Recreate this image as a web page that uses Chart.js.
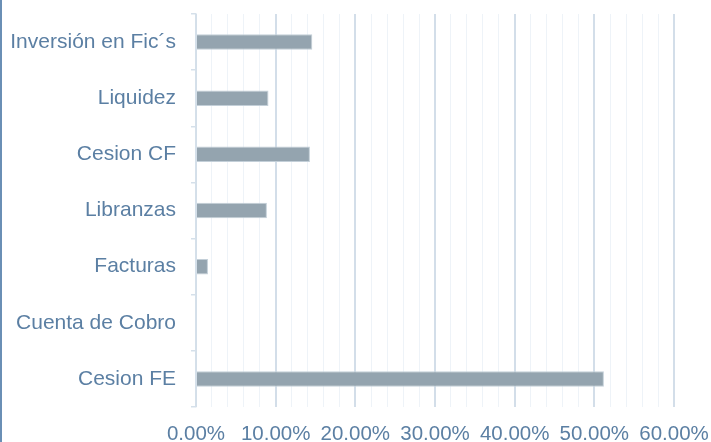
<!DOCTYPE html>
<html>
<head>
<meta charset="utf-8">
<script src="https://cdn.jsdelivr.net/npm/chart.js@4.4.1/dist/chart.umd.min.js"></script>
<style>
  html, body { margin: 0; padding: 0; background: #ffffff; overflow: hidden; }
  #wrap { position: relative; width: 709px; height: 442px; border-left: 2px solid #6a8fb5; }
  #c { display: block; }
</style>
</head>
<body>
<div id="wrap"><canvas id="c" width="709" height="442"></canvas></div>
<script>
const categories = ["Inversión en Fic´s", "Liquidez", "Cesion CF", "Libranzas", "Facturas", "Cuenta de Cobro", "Cesion FE"];
const values = [14.6, 9.1, 14.3, 8.9, 1.5, 0, 51.2];
const xTickValues = [0, 10, 20, 30, 40, 50, 60];

const labelColor = '#5b7fa3';
const fontFamily = '"Liberation Sans", Arial, sans-serif';

new Chart(document.getElementById('c'), {
  type: 'bar',
  data: {
    labels: categories,
    datasets: [{
      data: values,
      backgroundColor: '#94a4af',
      borderColor: '#c3cfd8',
      borderWidth: 1,
      borderSkipped: 'left',
      categoryPercentage: 0.3,
      barPercentage: 0.92
    }]
  },
  options: {
    indexAxis: 'y',
    responsive: false,
    animation: false,
    devicePixelRatio: 1,
    layout: { padding: { top: 14, right: 37, bottom: 0, left: 0 } },
    plugins: { legend: { display: false }, tooltip: { enabled: false } },
    scales: {
      x: {
        min: 0,
        max: 60,
        border: { display: false },
        grid: {
          drawTicks: false,
          color: (ctx) => (ctx.tick && xTickValues.includes(ctx.tick.value)) ? '#d3dee9' : '#eef3f8',
          lineWidth: (ctx) => (ctx.tick && xTickValues.includes(ctx.tick.value)) ? 2 : 1
        },
        ticks: {
          stepSize: 2,
          autoSkip: false,
          maxRotation: 0,
          padding: 19,
          color: labelColor,
          font: { family: fontFamily, size: 20.5, lineHeight: 0.8 },
          callback: (v) => xTickValues.includes(v) ? v.toFixed(2) + '%' : ''
        },
        afterFit: (scale) => { scale.height = 35; scale.paddingLeft = 0; scale.paddingRight = 0; }
      },
      y: {
        border: { display: true, color: '#d5e0ea', width: 1.5 },
        grid: {
          drawOnChartArea: false,
          drawTicks: true,
          tickLength: 5,
          color: '#d5e0ea',
          lineWidth: 1.5
        },
        ticks: {
          padding: 15,
          color: labelColor,
          font: { family: fontFamily, size: 21, lineHeight: 0.1 }
        },
        afterFit: (scale) => { scale.width = 194; scale.paddingTop = 0; scale.paddingBottom = 0; }
      }
    }
  }
});
</script>
</body>
</html>
